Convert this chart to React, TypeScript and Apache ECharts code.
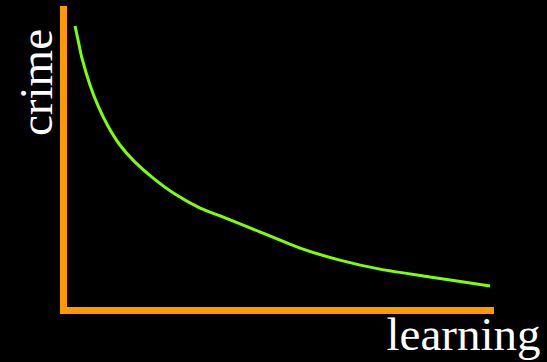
import React, { useEffect, useRef } from "react";
import * as echarts from "echarts";

const learning = [2.7, 3.4, 4.3, 6.2, 8.1, 10.4, 13.2, 16.7, 21.0, 26.1, 32.0, 36.7, 40.2, 46.0, 55.4, 64.7, 74.1, 85.8, 99.9];
const crime = [94.5, 89.9, 83.9, 74.9, 67.9, 61.2, 54.9, 49.3, 43.9, 38.6, 33.9, 31.3, 29.3, 26.0, 20.6, 16.6, 13.6, 11.0, 8.0];
const xLabel = "learning";
const yLabel = "crime";

export default function App() {
  const ref = useRef<HTMLDivElement>(null);
  useEffect(() => {
    document.body.style.margin = "0";
    document.body.style.background = "#000";
    const chart = echarts.init(ref.current!, null, { renderer: "svg" });
    const axisLine = {
      show: true,
      onZero: false,
      lineStyle: { color: "#ff9900", width: 7, cap: "square" },
    };
    const fontFamily = "Liberation Serif";
    chart.setOption({
      animation: false,
      backgroundColor: "#000",
      grid: { left: 63.5, top: 9.5, right: 56.5, bottom: 52 },
      xAxis: {
        type: "value",
        min: 0,
        max: 100,
        axisLine,
        axisTick: { show: false },
        axisLabel: { show: false },
        splitLine: { show: false },
      },
      yAxis: {
        type: "value",
        min: 0,
        max: 100,
        axisLine,
        axisTick: { show: false },
        axisLabel: { show: false },
        splitLine: { show: false },
      },
      series: [
        {
          type: "line",
          data: learning.map((x, i) => [x, crime[i]]),
          smooth: 0.2,
          showSymbol: false,
          lineStyle: { color: "#7fff00", width: 3 },
        },
      ],
      graphic: [
        {
          type: "text",
          x: 36,
          y: 82.5,
          rotation: Math.PI / 2,
          style: {
            text: yLabel,
            fill: "#fff",
            fontFamily,
            fontSize: 47,
            textAlign: "center",
            textVerticalAlign: "middle",
          },
        },
        {
          type: "text",
          x: 463.5,
          y: 334,
          style: {
            text: xLabel,
            fill: "#fff",
            fontFamily,
            fontSize: 47,
            textAlign: "center",
            textVerticalAlign: "middle",
          },
        },
      ],
    });
    return () => chart.dispose();
  }, []);
  return <div ref={ref} style={{ width: 547, height: 362 }} />;
}
